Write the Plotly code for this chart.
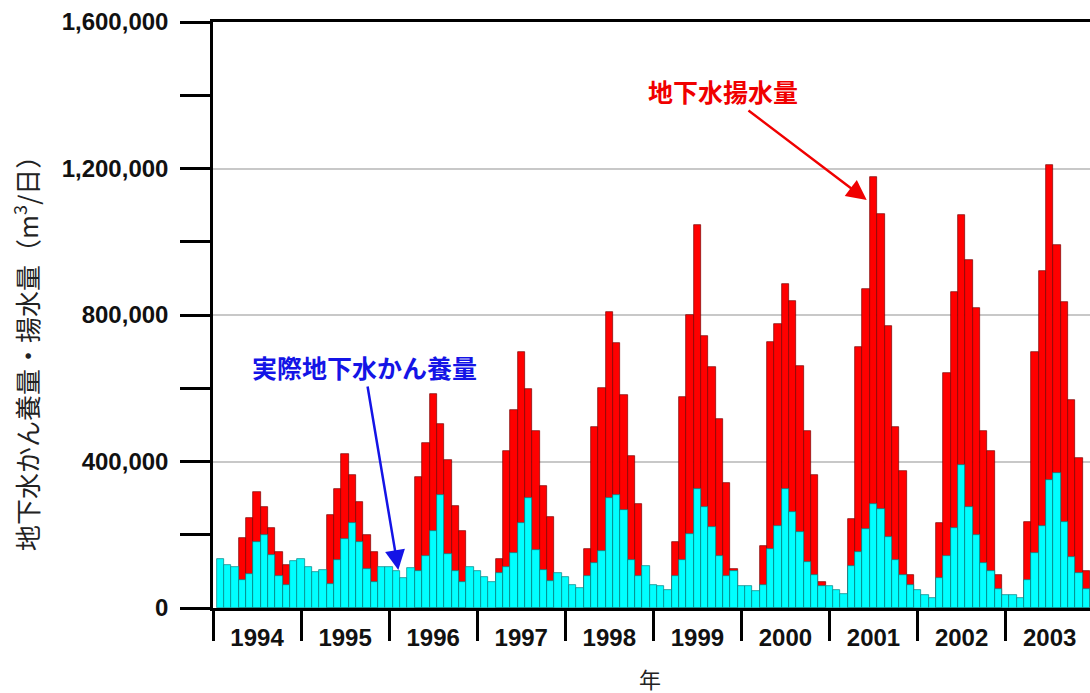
import plotly.graph_objects as go

years = [1994, 1995, 1996, 1997, 1998, 1999, 2000, 2001, 2002, 2003]

# 実際地下水かん養量 (m3/day), monthly Jan 1994 - Nov 2003
recharge = [
    134000, 117000, 112000, 76000, 94000, 179000, 198000, 144000, 87000, 63000, 129000, 133000,
    111000, 97000, 104000, 66000, 131000, 188000, 232000, 179000, 107000, 70000, 112000, 111000,
    102000, 82000, 110000, 100000, 143000, 211000, 309000, 148000, 102000, 71000, 111000, 101000,
    85000, 71000, 96000, 113000, 149000, 232000, 301000, 159000, 103000, 74000, 96000, 85000,
    64000, 54000, 87000, 122000, 157000, 300000, 309000, 268000, 132000, 87000, 116000, 64000,
    59000, 50000, 87000, 132000, 203000, 325000, 276000, 220000, 143000, 87000, 100000, 59000,
    59000, 46000, 64000, 161000, 223000, 325000, 261000, 208000, 125000, 90000, 61000, 59000,
    48000, 38000, 114000, 154000, 217000, 285000, 269000, 193000, 132000, 91000, 64000, 50000,
    36000, 26000, 82000, 143000, 218000, 391000, 275000, 200000, 123000, 100000, 53000, 36000,
    36000, 26000, 77000, 150000, 223000, 350000, 369000, 236000, 139000, 96000, 52000,
]

# 地下水揚水量 (m3/day); None where hidden behind the recharge bar
pumping = [
    None, None, None, 191000, 246000, 318000, 275000, 219000, 152000, 117000, None, None,
    None, None, None, 255000, 326000, 420000, 362000, 289000, 198000, 153000, None, None,
    None, None, None, 357000, 451000, 583000, 503000, 405000, 279000, 211000, None, None,
    None, None, 134000, 430000, 541000, 698000, 599000, 483000, 332000, 248000, None, None,
    None, None, 160000, 495000, 600000, 808000, 724000, 582000, 414000, 284000, None, None,
    None, None, 180000, 575000, 801000, 1045000, 744000, 657000, 516000, 340000, 107000, None,
    None, None, 170000, 726000, 776000, 885000, 837000, 662000, 484000, 362000, 70000, None,
    None, None, 244000, 714000, 872000, 1177000, 1077000, 771000, 493000, 373000, 91000, None,
    None, None, 232000, 642000, 862000, 1072000, 951000, 820000, 484000, 428000, 91000, None,
    None, None, 235000, 698000, 919000, 1209000, 990000, 835000, 567000, 410000, 100000,
]

y_ticks = [0, 400000, 800000, 1200000, 1600000]

months = [i + 1 for i in range(len(recharge))]
year_centers = [12 * k + 6 for k in range(len(years))]

fig = go.Figure()
fig.add_trace(go.Bar(
    x=months, y=pumping, width=1.0, name="地下水揚水量",
    marker=dict(color="#FF0000", line=dict(color="#7a0000", width=0.7)),
))
fig.add_trace(go.Bar(
    x=months, y=recharge, width=1.0, name="実際地下水かん養量",
    marker=dict(color="#00FFFF", line=dict(color="#008080", width=0.7)),
))

tick_font = dict(family="Liberation Sans, Arial, sans-serif", size=24, color="#111111", weight="bold")
jp = "Noto Sans CJK JP, sans-serif"

fig.update_layout(
    width=1090, height=693,
    margin=dict(l=213, r=0, t=22, b=85),
    paper_bgcolor="white", plot_bgcolor="white",
    barmode="overlay", bargap=0,
    showlegend=False,
    xaxis=dict(
        range=[0, 119.5],
        tickmode="array", tickvals=year_centers, ticktext=[str(y) for y in years],
        ticks="", tickfont=tick_font, ticklabelstandoff=6,
        showline=True, linecolor="black", linewidth=2.5, mirror=True,
        showgrid=False, zeroline=False,
        minor=dict(tickmode="linear", tick0=0, dtick=12, ticks="outside",
                   ticklen=30, tickwidth=2.5, tickcolor="black", showgrid=False),
    ),
    yaxis=dict(
        range=[0, 1600000],
        tickmode="array", tickvals=y_ticks, tickformat=",d",
        ticks="outside", ticklen=30, tickwidth=2.5, tickcolor="black",
        tickfont=tick_font, ticklabelstandoff=7,
        showline=True, linecolor="black", linewidth=2.5,
        showgrid=True, gridcolor="#c8c8c8", gridwidth=1.5,
        zeroline=False,
        minor=dict(tickmode="linear", tick0=0, dtick=200000, ticks="outside",
                   ticklen=30, tickwidth=2.5, tickcolor="black", showgrid=False),
    ),
    annotations=[
        dict(text="地下水揚水量", xref="paper", yref="paper", x=0.7454, y=0.6962,
             ax=-144, ay=-109, xanchor="center", yanchor="middle",
             showarrow=True, arrowhead=2, arrowsize=1.6, arrowwidth=2.5,
             arrowcolor="#F00000", standoff=0,
             font=dict(family=jp, size=25, color="#F00000", weight="bold")),
        dict(text="実際地下水かん養量", xref="paper", yref="paper", x=0.2113, y=0.0648,
             ax=-34, ay=-203, xanchor="center", yanchor="middle",
             showarrow=True, arrowhead=2, arrowsize=1.6, arrowwidth=2.5,
             arrowcolor="#1414E6", standoff=0,
             font=dict(family=jp, size=25, color="#1414E6", weight="bold")),
        dict(text="地下水かん養量・揚水量（m<sup>3</sup>/日）", xref="paper", yref="paper",
             x=-0.2132, y=0.4454, textangle=-90, showarrow=False,
             xanchor="center", yanchor="middle",
             font=dict(family=jp, size=26, color="#222222")),
        dict(text="年", xref="paper", yref="paper", x=0.4983, y=-0.1195,
             showarrow=False, xanchor="center", yanchor="middle",
             font=dict(family=jp, size=22, color="#222222")),
    ],
)

fig.write_html("out.html", config={"displayModeBar": False},
               post_script="document.body.style.margin='0px';document.body.style.overflow='hidden';")
